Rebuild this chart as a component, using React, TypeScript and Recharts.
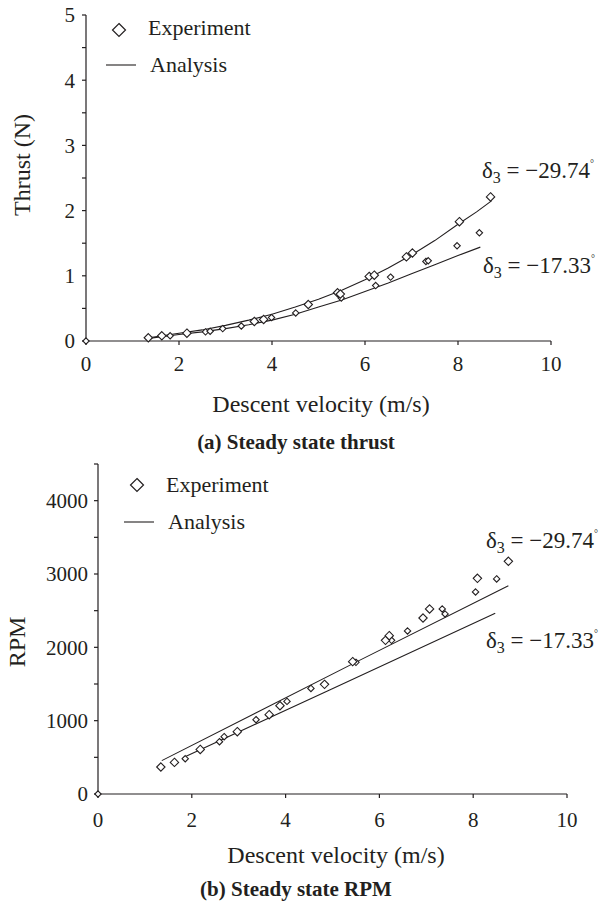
import React from 'react';
import { ComposedChart, Scatter, Line, XAxis, YAxis } from 'recharts';

const INK = '#231f20';
const SERIF = '"Liberation Serif", "Times New Roman", serif';

// Axis ticks
const velocityTicks = [0, 2, 4, 6, 8, 10];
const thrustTicks = [0, 0.5, 1, 1.5, 2, 2.5, 3, 3.5, 4, 4.5, 5];
const rpmTicks = [0, 500, 1000, 1500, 2000, 2500, 3000, 3500, 4000, 4500];

// (a) Steady state thrust — experiment, δ3 = −29.74°
const thrustExpA = [
  { x: 1.34, y: 0.05 }, { x: 1.63, y: 0.08 }, { x: 2.17, y: 0.12 }, { x: 3.62, y: 0.3 },
  { x: 3.82, y: 0.33 }, { x: 4.78, y: 0.56 }, { x: 5.41, y: 0.74 }, { x: 5.47, y: 0.72 },
  { x: 6.09, y: 0.99 }, { x: 6.2, y: 1.01 }, { x: 6.89, y: 1.29 }, { x: 7.02, y: 1.35 },
  { x: 8.03, y: 1.83 }, { x: 8.7, y: 2.21 },
];
// (a) experiment, δ3 = −17.33°
const thrustExpB = [
  { x: 0, y: 0 }, { x: 1.81, y: 0.08 }, { x: 2.57, y: 0.14 }, { x: 2.67, y: 0.15 },
  { x: 2.94, y: 0.19 }, { x: 3.34, y: 0.23 }, { x: 3.99, y: 0.36 }, { x: 4.51, y: 0.43 },
  { x: 5.49, y: 0.66 }, { x: 6.23, y: 0.85 }, { x: 6.55, y: 0.98 }, { x: 7.31, y: 1.22 },
  { x: 7.36, y: 1.23 }, { x: 7.98, y: 1.46 }, { x: 8.46, y: 1.66 },
];
// (a) analysis curves
const thrustAnaA = [
  { x: 1.35, y: 0.05 }, { x: 2, y: 0.12 }, { x: 2.5, y: 0.17 }, { x: 3, y: 0.24 },
  { x: 3.5, y: 0.32 }, { x: 4, y: 0.41 }, { x: 4.5, y: 0.52 }, { x: 5, y: 0.64 },
  { x: 5.5, y: 0.78 }, { x: 6, y: 0.94 }, { x: 6.5, y: 1.12 }, { x: 7, y: 1.32 },
  { x: 7.5, y: 1.54 }, { x: 8, y: 1.79 }, { x: 8.4, y: 1.98 }, { x: 8.72, y: 2.15 },
];
const thrustAnaB = [
  { x: 1.35, y: 0.04 }, { x: 2, y: 0.1 }, { x: 2.5, y: 0.14 }, { x: 3, y: 0.19 },
  { x: 3.5, y: 0.25 }, { x: 4, y: 0.32 }, { x: 4.5, y: 0.41 }, { x: 5, y: 0.52 },
  { x: 5.5, y: 0.63 }, { x: 6, y: 0.76 }, { x: 6.5, y: 0.89 }, { x: 7, y: 1.03 },
  { x: 7.5, y: 1.17 }, { x: 8, y: 1.31 }, { x: 8.48, y: 1.44 },
];

// (b) Steady state RPM — experiment, δ3 = −29.74°
const rpmExpA = [
  { x: 1.34, y: 368 }, { x: 1.63, y: 431 }, { x: 2.18, y: 608 }, { x: 2.97, y: 850 },
  { x: 3.65, y: 1082 }, { x: 3.88, y: 1204 }, { x: 4.83, y: 1495 }, { x: 5.43, y: 1805 },
  { x: 6.13, y: 2095 }, { x: 6.21, y: 2159 }, { x: 6.93, y: 2400 }, { x: 7.07, y: 2523 },
  { x: 8.09, y: 2941 }, { x: 8.75, y: 3173 },
];
// (b) experiment, δ3 = −17.33°
const rpmExpB = [
  { x: 0, y: 0 }, { x: 1.86, y: 481 }, { x: 2.59, y: 713 }, { x: 2.69, y: 782 },
  { x: 3.37, y: 1013 }, { x: 4.03, y: 1263 }, { x: 4.54, y: 1440 }, { x: 5.5, y: 1795 },
  { x: 6.26, y: 2095 }, { x: 6.6, y: 2223 }, { x: 7.34, y: 2523 }, { x: 7.4, y: 2455 },
  { x: 8.05, y: 2755 }, { x: 8.5, y: 2933 },
];
// (b) analysis lines
const rpmAnaA = [{ x: 1.36, y: 455 }, { x: 5.49, y: 1795 }, { x: 8.75, y: 2841 }];
const rpmAnaB = [{ x: 1.81, y: 495 }, { x: 4.95, y: 1423 }, { x: 8.47, y: 2466 }];

const diamond = (r: number) => (props: any) => {
  const { cx, cy } = props;
  if (cx == null || cy == null) return <g />;
  return (
    <path
      d={`M${cx},${cy - r}L${cx + r},${cy}L${cx},${cy + r}L${cx - r},${cy}Z`}
      fill="#fff"
      stroke={INK}
      strokeWidth={1.1}
    />
  );
};

const tickStyle = { fontFamily: SERIF, fontSize: 21, fill: INK };
const axisLine = { stroke: INK, strokeWidth: 1.2 };
const tickLine = { stroke: INK, strokeWidth: 1.2 };

const Delta = ({ x, y, value }: { x: number; y: number; value: string }) => (
  <text x={x} y={y} fontFamily={SERIF} fontSize={23} fill={INK}>
    δ
    <tspan fontSize={16} dy={5}>3</tspan>
    <tspan dy={-5}>{` = −${value}`}</tspan>
    <tspan fontSize={10} dy={-11}>°</tspan>
  </text>
);

export default function App() {
  return (
    <div style={{ position: 'absolute', left: 0, top: 0, width: 599, height: 907, background: '#fff' }}>
      <div style={{ position: 'absolute', left: 0, top: 0 }}>
        <ComposedChart width={599} height={440} margin={{ top: 15, right: 48, bottom: 0, left: 0 }}>
          <XAxis
            type="number"
            dataKey="x"
            domain={[0, 10]}
            ticks={velocityTicks}
            interval={0}
            height={99}
            tickSize={4}
            tickMargin={11}
            tick={tickStyle}
            axisLine={axisLine}
            tickLine={tickLine}
          />
          <YAxis
            type="number"
            dataKey="y"
            domain={[0, 5]}
            ticks={thrustTicks}
            interval={0}
            width={86}
            tickSize={4}
            tickMargin={7}
            tick={tickStyle}
            axisLine={axisLine}
            tickLine={tickLine}
            tickFormatter={(v: number) => (Number.isInteger(v) ? String(v) : '')}
          />
          <Line data={thrustAnaA} dataKey="y" type="linear" stroke={INK} strokeWidth={1.1} dot={false} isAnimationActive={false} />
          <Line data={thrustAnaB} dataKey="y" type="linear" stroke={INK} strokeWidth={1.1} dot={false} isAnimationActive={false} />
          <Scatter data={thrustExpB} dataKey="y" shape={diamond(3.2)} isAnimationActive={false} />
          <Scatter data={thrustExpA} dataKey="y" shape={diamond(4.2)} isAnimationActive={false} />
        </ComposedChart>
      </div>
      <div style={{ position: 'absolute', left: 0, top: 440 }}>
        <ComposedChart width={599} height={467} margin={{ top: 24, right: 32, bottom: 0, left: 0 }}>
          <XAxis
            type="number"
            dataKey="x"
            domain={[0, 10]}
            ticks={velocityTicks}
            interval={0}
            height={113}
            tickSize={4}
            tickMargin={14}
            tick={tickStyle}
            axisLine={axisLine}
            tickLine={tickLine}
          />
          <YAxis
            type="number"
            dataKey="y"
            domain={[0, 4500]}
            ticks={rpmTicks}
            interval={0}
            width={98}
            tickSize={4}
            tickMargin={6}
            tick={tickStyle}
            axisLine={axisLine}
            tickLine={tickLine}
            tickFormatter={(v: number) => (v % 1000 === 0 ? String(v) : '')}
          />
          <Line data={rpmAnaA} dataKey="y" type="linear" stroke={INK} strokeWidth={1.1} dot={false} isAnimationActive={false} />
          <Line data={rpmAnaB} dataKey="y" type="linear" stroke={INK} strokeWidth={1.1} dot={false} isAnimationActive={false} />
          <Scatter data={rpmExpB} dataKey="y" shape={diamond(3.2)} isAnimationActive={false} />
          <Scatter data={rpmExpA} dataKey="y" shape={diamond(4.2)} isAnimationActive={false} />
        </ComposedChart>
      </div>
      <svg
        width={599}
        height={907}
        style={{ position: 'absolute', left: 0, top: 0, pointerEvents: 'none' }}
      >
        {/* (a) legend */}
        <path d="M119,23.5L125.5,30L119,36.5L112.5,30Z" fill="#fff" stroke={INK} strokeWidth={1.2} />
        <text x={148} y={35} fontFamily={SERIF} fontSize={22} fill={INK}>Experiment</text>
        <line x1={106} y1={65} x2={136} y2={65} stroke={INK} strokeWidth={1.1} />
        <text x={150} y={72} fontFamily={SERIF} fontSize={22} fill={INK}>Analysis</text>
        {/* (a) annotations */}
        <Delta x={482} y={178} value="29.74" />
        <Delta x={483} y={273} value="17.33" />
        {/* (a) axis titles */}
        <text x={321} y={412} textAnchor="middle" fontFamily={SERIF} fontSize={24} fill={INK}>Descent velocity (m/s)</text>
        <text transform="translate(30,165) rotate(-90)" textAnchor="middle" fontFamily={SERIF} fontSize={24} fill={INK}>Thrust (N)</text>
        <text x={296} y={449} textAnchor="middle" fontFamily={SERIF} fontSize={21} fontWeight="bold" fill={INK}>(a) Steady state thrust</text>

        {/* (b) legend */}
        <path d="M137,478.5L143.5,485L137,491.5L130.5,485Z" fill="#fff" stroke={INK} strokeWidth={1.2} />
        <text x={166} y={492} fontFamily={SERIF} fontSize={22} fill={INK}>Experiment</text>
        <line x1={124} y1={522} x2={154} y2={522} stroke={INK} strokeWidth={1.1} />
        <text x={168} y={529} fontFamily={SERIF} fontSize={22} fill={INK}>Analysis</text>
        {/* (b) annotations */}
        <Delta x={486} y={548} value="29.74" />
        <Delta x={486} y={648} value="17.33" />
        {/* (b) axis titles */}
        <text x={336} y={863} textAnchor="middle" fontFamily={SERIF} fontSize={24} fill={INK}>Descent velocity (m/s)</text>
        <text transform="translate(25,642) rotate(-90)" textAnchor="middle" fontFamily={SERIF} fontSize={24} fill={INK}>RPM</text>
        <text x={296} y={896} textAnchor="middle" fontFamily={SERIF} fontSize={21} fontWeight="bold" fill={INK}>(b) Steady state RPM</text>
      </svg>
    </div>
  );
}
